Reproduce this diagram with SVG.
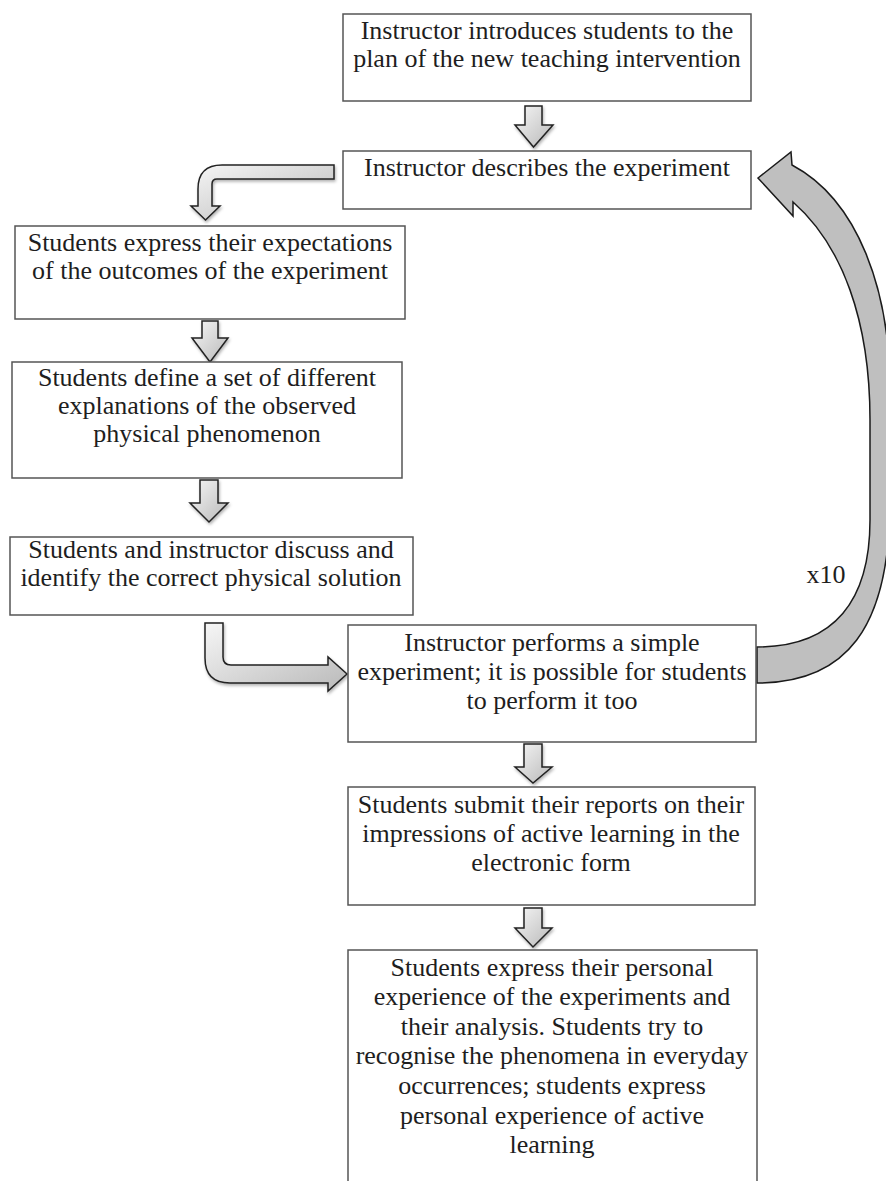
<svg xmlns="http://www.w3.org/2000/svg" width="886" height="1181" viewBox="0 0 886 1181">
<defs>
<linearGradient id="g" x1="0" y1="0" x2="1" y2="1">
<stop offset="0" stop-color="#f6f6f6"/>
<stop offset="1" stop-color="#b9b9b9"/>
</linearGradient>
<filter id="sh" x="-20%" y="-20%" width="140%" height="140%">
<feDropShadow dx="1" dy="2" stdDeviation="1.5" flood-color="#000" flood-opacity="0.3"/>
</filter>
<style>
.box{fill:#fff;stroke:#555;stroke-width:1.5}
.t{font-family:"Liberation Serif","Times New Roman",serif;font-size:26px;fill:#1e1e1e;text-anchor:middle}
.ar{fill:url(#g);stroke:#222;stroke-width:1.5;stroke-linejoin:miter;filter:url(#sh)}
.cv{fill:#bfbfbf;stroke:#1a1a1a;stroke-width:1.5}
</style>
</defs>
<rect width="886" height="1181" fill="#fff"/>
<g id="connectors">
<path class="ar" d="M525,106 H542 V125 H553 L533.5,147 L515,125 H525 Z"/>
<path class="ar" d="M334,165 V179 H217 Q212,179 212,184 V206 H220 L205.5,220 L191,206 H198 V189 Q198,165 222,165 Z"/>
<path class="ar" d="M202,321 H218 V338 H228 L210,362 L192,338 H202 Z"/>
<path class="ar" d="M200,480 H218 V503 H228 L209,522 L190,503 H200 Z"/>
<path class="ar" d="M205,623 H223 V657 Q223,665 231,665 H328 V657 L347,674 L328,691 V683 H230 Q205,683 205,658 Z"/>
<path class="ar" d="M524,744 H542 V767 H552 L533,783 L515,767 H524 Z"/>
<path class="ar" d="M524,908 H542 V928 H552 L533,947 L515,928 H524 Z"/>
<path class="cv" d="M757,647 C835,647 870,600 870,520 L870,420 C870,320 842,245 793,202 L793,216 L758,178 L791,152 L792,165 C858,200 890,290 890,390 L890,500 C890,630 845,683 757,683 Z"/>
</g>
<g id="n1"><rect class="box" x="343" y="14" width="408" height="87"/>
<text class="t" x="547" y="39">Instructor introduces students to the</text>
<text class="t" x="547" y="67">plan of the new teaching intervention</text></g>
<g id="n2"><rect class="box" x="343" y="151" width="408" height="58"/>
<text class="t" x="547" y="176">Instructor describes the experiment</text></g>
<g id="n3"><rect class="box" x="15" y="226" width="390" height="93"/>
<text class="t" x="210" y="251">Students express their expectations</text>
<text class="t" x="210" y="279">of the outcomes of the experiment</text></g>
<g id="n4"><rect class="box" x="12" y="362" width="390" height="116"/>
<text class="t" x="207" y="386">Students define a set of different</text>
<text class="t" x="207" y="414">explanations of the observed</text>
<text class="t" x="207" y="442">physical phenomenon</text></g>
<g id="n5"><rect class="box" x="10" y="537" width="403" height="78"/>
<text class="t" x="211" y="558">Students and instructor discuss and</text>
<text class="t" x="211" y="586">identify the correct physical solution</text></g>
<g id="n6"><rect class="box" x="348" y="625" width="408" height="117"/>
<text class="t" x="552" y="651">Instructor performs a simple</text>
<text class="t" x="552" y="680">experiment; it is possible for students</text>
<text class="t" x="552" y="709">to perform it too</text></g>
<g id="n7"><rect class="box" x="348" y="787" width="407" height="118"/>
<text class="t" x="551" y="813">Students submit their reports on their</text>
<text class="t" x="551" y="842">impressions of active learning in the</text>
<text class="t" x="551" y="871">electronic form</text></g>
<g id="n8"><rect class="box" x="348" y="950" width="409" height="260"/>
<text class="t" x="552" y="976">Students express their personal</text>
<text class="t" x="552" y="1005">experience of the experiments and</text>
<text class="t" x="552" y="1035">their analysis. Students try to</text>
<text class="t" x="552" y="1064">recognise the phenomena in everyday</text>
<text class="t" x="552" y="1094">occurrences; students express</text>
<text class="t" x="552" y="1124">personal experience of active</text>
<text class="t" x="552" y="1153">learning</text></g>
<g id="label"><text class="t" x="826" y="583">x10</text></g>
</svg>
